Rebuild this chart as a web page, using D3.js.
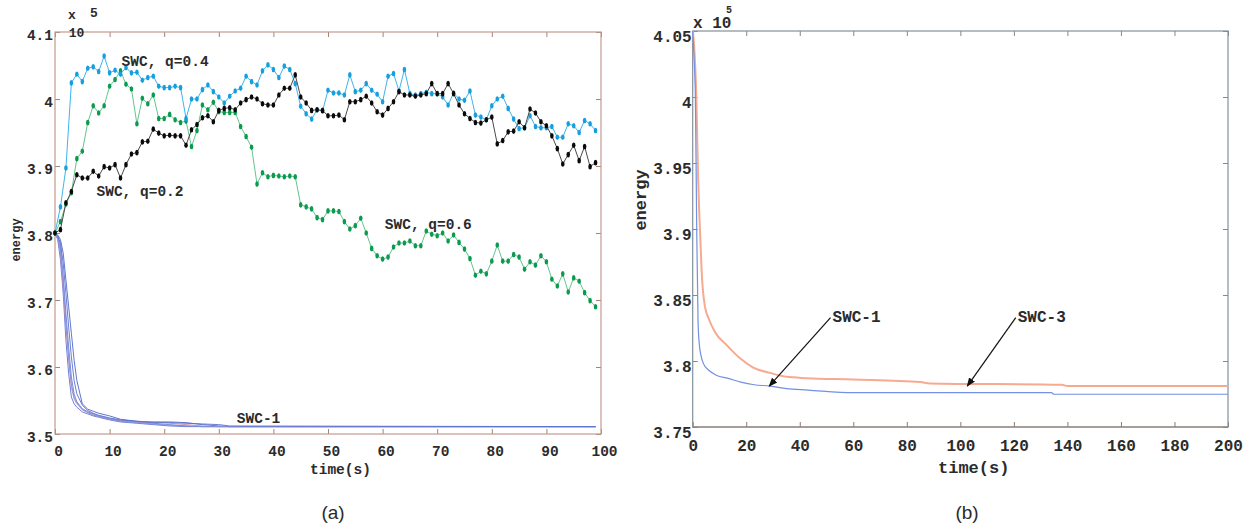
<!DOCTYPE html>
<html>
<head>
<meta charset="utf-8">
<script src="https://cdn.jsdelivr.net/npm/d3@7"></script>
<style>
  body { margin: 0; background: #fff; }
  svg text { font-family: "Liberation Mono", "DejaVu Sans Mono", monospace; font-weight: bold; fill: #2b2b2b; }
</style>
</head>
<body>
<svg id="chart" width="1248" height="527"></svg>
<script>
// panel (a): energy (x 10^5) sampled every second, 0..99 s
var q04Energy = [
  3.800, 3.839, 3.897, 4.024, 4.037, 4.026, 4.046, 4.048, 4.041, 4.064,
  4.039, 4.043, 4.037, 4.047, 4.039, 4.040, 4.028, 4.032, 4.034, 4.019,
  4.017, 4.017, 4.019, 4.017, 3.971, 4.000, 4.000, 4.014, 4.021, 4.011,
  4.003, 3.994, 4.004, 4.012, 4.016, 4.034, 4.026, 4.021, 4.042, 4.051,
  4.044, 4.032, 4.049, 4.044, 4.023, 3.989, 3.978, 3.970, 3.984, 3.982,
  4.013, 4.009, 4.009, 4.006, 4.036, 4.011, 4.013, 4.023, 4.013, 4.007,
  3.996, 4.034, 4.038, 4.012, 4.044, 4.008, 4.006, 4.008, 4.010, 4.008,
  4.008, 4.003, 3.991, 4.009, 4.000, 3.998, 4.012, 3.976, 3.973, 3.969,
  3.990, 4.000, 4.004, 3.986, 3.970, 3.956, 3.957, 3.975, 3.959, 3.957,
  3.957, 3.959, 3.943, 3.943, 3.963, 3.960, 3.950, 3.968, 3.963, 3.953]

var q02Energy = [
  3.800, 3.805, 3.845, 3.862, 3.887, 3.882, 3.882, 3.892, 3.885, 3.899,
  3.897, 3.902, 3.882, 3.902, 3.918, 3.920, 3.936, 3.937, 3.955, 3.949,
  3.945, 3.946, 3.945, 3.945, 3.931, 3.954, 3.962, 3.972, 3.975, 3.966,
  3.983, 3.986, 3.987, 3.984, 3.994, 3.999, 4.003, 4.000, 3.993, 3.991,
  3.991, 4.006, 4.016, 4.016, 4.036, 4.003, 3.994, 3.983, 3.984, 3.983,
  3.975, 3.975, 3.976, 3.969, 3.996, 3.996, 3.999, 4.004, 3.994, 3.981,
  3.976, 3.986, 3.996, 4.011, 4.006, 4.006, 4.004, 4.006, 4.008, 4.023,
  4.008, 4.008, 4.023, 4.008, 3.991, 3.978, 3.971, 3.965, 3.964, 3.969,
  3.973, 3.933, 3.938, 3.951, 3.952, 3.966, 3.957, 3.985, 3.979, 3.966,
  3.960, 3.945, 3.926, 3.903, 3.917, 3.931, 3.908, 3.929, 3.899, 3.905]

var q06Energy = [
  3.800, 3.817, 3.843, 3.860, 3.911, 3.922, 3.965, 3.990, 3.979, 3.990,
  4.019, 4.029, 4.042, 4.022, 4.015, 3.963, 4.001, 3.993, 4.006, 3.971,
  3.971, 3.977, 3.969, 3.965, 3.967, 3.929, 3.953, 3.991, 3.984, 3.995,
  3.981, 3.980, 3.980, 3.980, 3.959, 3.944, 3.928, 3.873, 3.890, 3.884,
  3.886, 3.885, 3.884, 3.885, 3.884, 3.842, 3.839, 3.836, 3.823, 3.820,
  3.833, 3.833, 3.832, 3.817, 3.806, 3.811, 3.822, 3.800, 3.777, 3.766,
  3.761, 3.764, 3.779, 3.785, 3.785, 3.788, 3.781, 3.781, 3.803, 3.798,
  3.796, 3.800, 3.788, 3.797, 3.786, 3.776, 3.762, 3.737, 3.743, 3.739,
  3.758, 3.782, 3.758, 3.758, 3.768, 3.764, 3.746, 3.757, 3.752, 3.766,
  3.757, 3.731, 3.721, 3.739, 3.712, 3.733, 3.728, 3.711, 3.699, 3.690]

// SWC-1 runs in panel (a)
var swc1RunTime = [0, 0.5, 1, 1.5, 2, 2.5, 3, 3.5, 4, 5, 6, 7, 8, 10, 12, 15, 18, 21, 24, 27, 30, 32, 99]
var swc1Runs = [
  [3.800, 3.790, 3.760, 3.710, 3.640, 3.590, 3.555, 3.545, 3.540, 3.533, 3.530, 3.527, 3.525, 3.521, 3.518, 3.516, 3.514, 3.512, 3.511, 3.511, 3.511, 3.511, 3.511],
  [3.800, 3.795, 3.780, 3.735, 3.680, 3.630, 3.585, 3.560, 3.548, 3.538, 3.533, 3.530, 3.527, 3.523, 3.520, 3.518, 3.516, 3.514, 3.512, 3.511, 3.511, 3.511, 3.511],
  [3.800, 3.797, 3.790, 3.770, 3.730, 3.690, 3.650, 3.610, 3.580, 3.545, 3.537, 3.534, 3.531, 3.527, 3.522, 3.519, 3.518, 3.518, 3.517, 3.514, 3.512, 3.511, 3.511],
  [3.800, 3.792, 3.770, 3.720, 3.660, 3.610, 3.570, 3.552, 3.545, 3.536, 3.532, 3.529, 3.526, 3.522, 3.520, 3.518, 3.518, 3.516, 3.514, 3.512, 3.511, 3.511, 3.511],
  [3.800, 3.793, 3.775, 3.730, 3.670, 3.615, 3.575, 3.555, 3.547, 3.537, 3.532, 3.528, 3.526, 3.522, 3.519, 3.517, 3.515, 3.513, 3.512, 3.511, 3.511, 3.511, 3.511],
  [3.800, 3.796, 3.785, 3.755, 3.710, 3.660, 3.615, 3.580, 3.560, 3.543, 3.535, 3.531, 3.528, 3.524, 3.521, 3.519, 3.517, 3.517, 3.516, 3.515, 3.514, 3.512, 3.511]]
var swc1RunColors = ['#5b73d4', '#6a7fd8', '#4c66cc', '#c98aa8', '#7d8fe0', '#5870d0']

// panel (b)
var swc1Time = [0, 0.5, 1, 1.5, 2, 2.5, 3, 4, 6, 9, 13, 18, 23, 29, 35, 43, 60, 134, 135, 200]
var swc1Energy = [4.05, 4.03, 4.0, 3.9, 3.83, 3.812, 3.805, 3.798, 3.793, 3.789, 3.787, 3.784, 3.782, 3.781, 3.779, 3.778, 3.776, 3.776, 3.7748, 3.7748]
var swc3Time = [0, 0.5, 1.35, 2, 2.5, 3, 3.4, 4.6, 6, 8.3, 12.7, 17.7, 22.6, 28.9, 35.1, 42.6, 60, 85, 88.6, 138, 140, 200]
var swc3Energy = [4.05, 4.04, 4.0, 3.94, 3.91, 3.885, 3.866, 3.841, 3.832, 3.822, 3.812, 3.802, 3.795, 3.791, 3.788, 3.787, 3.786, 3.784, 3.783, 3.782, 3.781, 3.781]

var xTicksA = [0, 10, 20, 30, 40, 50, 60, 70, 80, 90, 100]
var yTicksA = [3.5, 3.6, 3.7, 3.8, 3.9, 4.0, 4.1]
var xTicksB = [0, 20, 40, 60, 80, 100, 120, 140, 160, 180, 200]
var yTicksB = [3.75, 3.8, 3.85, 3.9, 3.95, 4.0, 4.05]

var svg = d3.select('#chart')
svg.append('rect').attr('width', 1248).attr('height', 527).attr('fill', '#fff')

// ---------- panel (a) ----------
var xA = d3.scaleLinear().domain([0, 100]).range([55, 601])
var yA = d3.scaleLinear().domain([3.5, 4.1]).range([434, 32])
var gA = svg.append('g')

function styleAxis(g, color, size) {
	g.select('.domain').remove()
	g.selectAll('.tick line').attr('stroke', color)
	g.selectAll('.tick text').style('font-size', size + 'px').attr('fill', '#2b2b2b')
}

gA.append('g').attr('transform', 'translate(0,434)')
	.call(d3.axisBottom(xA).tickValues(xTicksA).tickSizeInner(-5).tickSizeOuter(0).tickPadding(12))
	.call(styleAxis, '#a08478', 14.5)
	.selectAll('.tick text').attr('dx', 3)
gA.append('g').attr('transform', 'translate(0,32)')
	.call(d3.axisTop(xA).tickValues(xTicksA).tickSizeInner(-5).tickSizeOuter(0).tickFormat(''))
	.call(styleAxis, '#a08478', 14.5)
gA.append('g').attr('transform', 'translate(55,0)')
	.call(d3.axisLeft(yA).tickValues(yTicksA).tickSizeInner(-5).tickSizeOuter(0).tickPadding(2).tickFormat(d3.format('~g')))
	.call(styleAxis, '#a08478', 14.5)
	.selectAll('.tick text').attr('dy', '0.5em')
gA.append('g').attr('transform', 'translate(601,0)')
	.call(d3.axisRight(yA).tickValues(yTicksA).tickSizeInner(-5).tickSizeOuter(0).tickFormat(''))
	.call(styleAxis, '#a08478', 14.5)
gA.append('rect').attr('x', xA(0)).attr('y', yA(4.1))
	.attr('width', xA(100) - xA(0)).attr('height', yA(3.5) - yA(4.1))
	.attr('fill', 'none').attr('stroke', '#c49a8c').attr('stroke-width', 1.2)

var runLine = d3.line().x(function(d) { return xA(d[0]) }).y(function(d) { return yA(d[1]) })
swc1Runs.forEach(function(run, i) {
	var pts = swc1RunTime.map(function(t, j) { return [t, run[j]] })
	gA.append('path').attr('d', runLine(pts)).attr('fill', 'none')
		.attr('stroke', swc1RunColors[i]).attr('stroke-width', 0.9)
})

var series = [
	{ values: q06Energy, line: '#63c58f', dot: '#0b9a4e' },
	{ values: q04Energy, line: '#3fb4ea', dot: '#169fdf' },
	{ values: q02Energy, line: '#4a4a4a', dot: '#0a0a0a' }
]
var stepLine = d3.line().x(function(d, i) { return xA(i) }).y(function(d) { return yA(d) })
series.forEach(function(s) {
	gA.append('path').attr('d', stepLine(s.values)).attr('fill', 'none')
		.attr('stroke', s.line).attr('stroke-width', 1)
	gA.selectAll(null).data(s.values).enter().append('ellipse')
		.attr('cx', function(d, i) { return xA(i) })
		.attr('cy', function(d) { return yA(d) })
		.attr('rx', 1.8).attr('ry', 2.8).attr('fill', s.dot)
})

var notesA = [
	{ text: 'SWC, q=0.4', t: 12.2, v: 4.0557 },
	{ text: 'SWC, q=0.2', t: 7.6, v: 3.8616 },
	{ text: 'SWC, q=0.6', t: 60.4, v: 3.812 },
	{ text: 'SWC-1', t: 33.3, v: 3.5224 }
]
gA.selectAll(null).data(notesA).enter().append('text')
	.attr('x', function(d) { return xA(d.t) }).attr('y', function(d) { return yA(d.v) })
	.attr('dominant-baseline', 'central').style('font-size', '14.5px')
	.text(function(d) { return d.text })

gA.append('text').attr('x', 310).attr('y', 470).attr('dominant-baseline', 'central')
	.style('font-size', '14.5px').text('time(s)')
gA.append('text').attr('transform', 'translate(17,240) rotate(-90)').attr('text-anchor', 'middle')
	.attr('dominant-baseline', 'central').style('font-size', '12px').text('energy')
gA.append('text').attr('x', 72).attr('y', 15).attr('text-anchor', 'middle').attr('dominant-baseline', 'central')
	.style('font-size', '13px').text('x')
gA.append('text').attr('x', 94).attr('y', 13).attr('text-anchor', 'middle').attr('dominant-baseline', 'central')
	.style('font-size', '13px').text('5')
gA.append('text').attr('x', 76.5).attr('y', 33).attr('text-anchor', 'middle').attr('dominant-baseline', 'central')
	.style('font-size', '13px').text('10')

// ---------- panel (b) ----------
var xB = d3.scaleLinear().domain([0, 200]).range([692.7, 1228])
var yB = d3.scaleLinear().domain([3.75, 4.05]).range([427, 31])
var gB = svg.append('g')

gB.append('g').attr('transform', 'translate(0,427)')
	.call(d3.axisBottom(xB).tickValues(xTicksB).tickSizeInner(-5).tickSizeOuter(0).tickPadding(13))
	.call(styleAxis, '#8c7a70', 16)
gB.append('g').attr('transform', 'translate(0,31)')
	.call(d3.axisTop(xB).tickValues(xTicksB).tickSizeInner(-5).tickSizeOuter(0).tickFormat(''))
	.call(styleAxis, '#7d8a96', 16)
gB.append('g').attr('transform', 'translate(692.7,0)')
	.call(d3.axisLeft(yB).tickValues(yTicksB).tickSizeInner(-5).tickSizeOuter(0).tickPadding(1).tickFormat(d3.format('~g')))
	.call(styleAxis, '#7d8a96', 16)
	.selectAll('.tick text').attr('dy', '0.63em')
gB.append('g').attr('transform', 'translate(1228,0)')
	.call(d3.axisRight(yB).tickValues(yTicksB).tickSizeInner(-5).tickSizeOuter(0).tickFormat(''))
	.call(styleAxis, '#7d8a96', 16)
gB.append('rect').attr('x', xB(0)).attr('y', yB(4.05))
	.attr('width', xB(200) - xB(0)).attr('height', yB(3.75) - yB(4.05))
	.attr('fill', 'none').attr('stroke', '#84909b').attr('stroke-width', 1.2)
gB.append('line').attr('x1', xB(0)).attr('x2', xB(200)).attr('y1', yB(3.75)).attr('y2', yB(3.75))
	.attr('stroke', '#957f73').attr('stroke-width', 1.2)

var curveB = function(ts, vs) {
	return d3.line().curve(d3.curveMonotoneX)
		.x(function(d, i) { return xB(ts[i]) }).y(function(d) { return yB(d) })(vs)
}
gB.append('path').attr('d', curveB(swc3Time, swc3Energy)).attr('fill', 'none')
	.attr('stroke', '#f6aa90').attr('stroke-width', 2)
gB.append('path').attr('d', curveB(swc1Time, swc1Energy)).attr('fill', 'none')
	.attr('stroke', '#7390e2').attr('stroke-width', 1.2)

svg.append('defs').append('marker').attr('id', 'arrow').attr('viewBox', '0 0 10 10')
	.attr('refX', 9).attr('refY', 5).attr('markerWidth', 9).attr('markerHeight', 9)
	.attr('orient', 'auto').attr('markerUnits', 'userSpaceOnUse')
	.append('path').attr('d', 'M0,1 L10,5 L0,9 Z').attr('fill', '#111')

var notesB = [
	{ text: 'SWC-1', t: 51.5, v: 3.8329, tt: 28.6, tv: 3.781 },
	{ text: 'SWC-3', t: 120.7, v: 3.8329, tt: 102.6, tv: 3.781 }
]
notesB.forEach(function(d) {
	gB.append('line').attr('x1', xB(d.t)).attr('y1', yB(d.v)).attr('x2', xB(d.tt)).attr('y2', yB(d.tv))
		.attr('stroke', '#111').attr('stroke-width', 1.2).attr('marker-end', 'url(#arrow)')
	gB.append('text').attr('x', xB(d.t) + 2).attr('y', yB(d.v)).attr('dominant-baseline', 'central')
		.style('font-size', '16px').text(d.text)
})

gB.append('text').attr('x', 938).attr('y', 468).attr('dominant-baseline', 'central')
	.style('font-size', '17px').text('time(s)')
gB.append('text').attr('transform', 'translate(641,200) rotate(-90)').attr('text-anchor', 'middle')
	.attr('dominant-baseline', 'central').style('font-size', '17px').text('energy')
gB.append('text').attr('x', 693).attr('y', 24).attr('dominant-baseline', 'central')
	.style('font-size', '16px').text('x 10')
gB.append('text').attr('x', 729).attr('y', 10).attr('text-anchor', 'middle').attr('dominant-baseline', 'central')
	.style('font-size', '10px').text('5')

// panel captions
svg.append('text').attr('x', 333).attr('y', 512).attr('text-anchor', 'middle').attr('dominant-baseline', 'central')
	.style('font-family', 'Liberation Sans, Arial, sans-serif').style('font-weight', 'normal').style('font-size', '19px').text('(a)')
svg.append('text').attr('x', 967).attr('y', 512).attr('text-anchor', 'middle').attr('dominant-baseline', 'central')
	.style('font-family', 'Liberation Sans, Arial, sans-serif').style('font-weight', 'normal').style('font-size', '19px').text('(b)')
</script>
</body>
</html>
